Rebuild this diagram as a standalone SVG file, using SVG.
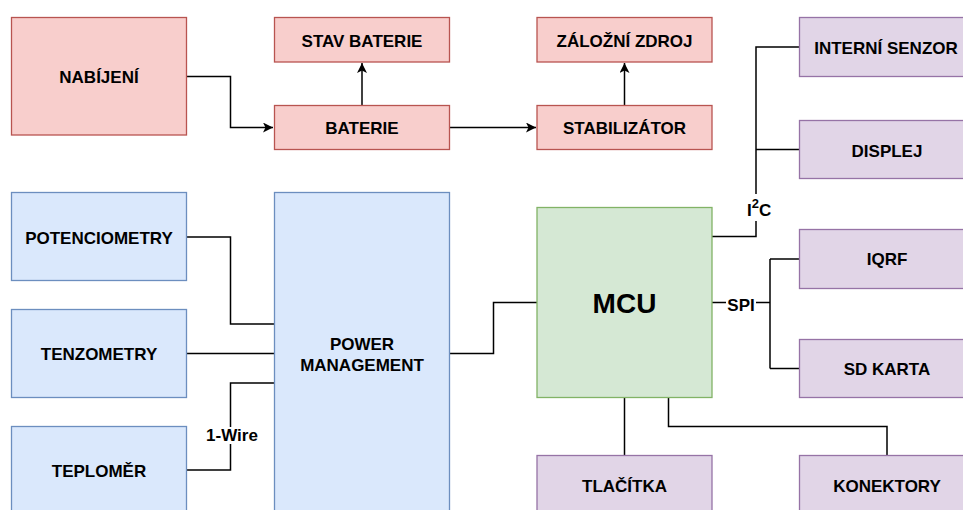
<svg xmlns="http://www.w3.org/2000/svg" width="963" height="510" viewBox="0 0 963 510">
<style>
.t{font-family:"Liberation Sans",Arial,sans-serif;font-weight:bold;font-size:17px;fill:#000;text-anchor:middle}
.red{fill:#f8cecc;stroke:#b85450;stroke-width:1.3}
.blue{fill:#dae8fc;stroke:#6c8ebf;stroke-width:1.3}
.green{fill:#d5e8d4;stroke:#82b366;stroke-width:1.3}
.purple{fill:#e1d5e7;stroke:#9673a6;stroke-width:1.3}
.c{fill:none;stroke:#000;stroke-width:1.5}
.bg{fill:#fff}
</style>
<defs>
<marker id="arr" viewBox="0 0 10 10" refX="10" refY="5" markerWidth="10" markerHeight="10" markerUnits="userSpaceOnUse" orient="auto">
<path d="M0,0 L10,5 L0,10 L2.5,5 Z" fill="#000"/>
</marker>
</defs>
<rect width="963" height="510" fill="#fff"/>
<g id="connectors">
<path class="c" d="M187,76.5 H230.5 V127.5 H273" marker-end="url(#arr)"/>
<path class="c" d="M362,105.5 V63" marker-end="url(#arr)"/>
<path class="c" d="M450,127.5 H536" marker-end="url(#arr)"/>
<path class="c" d="M624.5,105.5 V63" marker-end="url(#arr)"/>
<path class="c" d="M187,237 H230.5 V324 H274.5"/>
<path class="c" d="M187,353.5 H274.5"/>
<path class="c" d="M187,470 H230.5 V383 H274.5"/>
<path class="c" d="M450,353.5 H493.5 V302.5 H537"/>
<path class="c" d="M712,236.5 H756 V47 H799.5"/>
<path class="c" d="M756,149.5 H799.5"/>
<path class="c" d="M712,302.5 H770"/>
<path class="c" d="M770,259 V368.5"/>
<path class="c" d="M770,259 H799.5"/>
<path class="c" d="M770,368.5 H799.5"/>
<path class="c" d="M624.5,397.5 V455.5"/>
<path class="c" d="M668.5,397.5 V426.5 H887 V455.5"/>
<rect class="bg" x="742" y="194" width="32" height="27"/>
<text class="t" x="747" y="216" text-anchor="start" style="text-anchor:start">I<tspan dy="-8" font-size="13">2</tspan><tspan dy="8">C</tspan></text>
<rect class="bg" x="726" y="293" width="30" height="19"/>
<text class="t" x="741" y="310.5">SPI</text>
<rect class="bg" x="206" y="427" width="52" height="17"/>
<text class="t" x="232" y="441">1-Wire</text>
</g>
<g id="nabijeni"><rect class="red" x="11.5" y="17.5" width="175" height="117.5"/><text class="t" x="99" y="83">NABÍJENÍ</text></g>
<g id="stav-baterie"><rect class="red" x="274.5" y="17.5" width="175" height="44.5"/><text class="t" x="362" y="47">STAV BATERIE</text></g>
<g id="baterie"><rect class="red" x="274.5" y="105.5" width="175" height="44"/><text class="t" x="362" y="134">BATERIE</text></g>
<g id="zalozni-zdroj"><rect class="red" x="537" y="17.5" width="175" height="44.5"/><text class="t" x="624.5" y="47">ZÁLOŽNÍ ZDROJ</text></g>
<g id="stabilizator"><rect class="red" x="537" y="105.5" width="175" height="44"/><text class="t" x="624.5" y="134">STABILIZÁTOR</text></g>
<g id="interni-senzor"><rect class="purple" x="799.5" y="17.5" width="175" height="59"/><text class="t" x="886" y="54">INTERNÍ SENZOR</text></g>
<g id="displej"><rect class="purple" x="799.5" y="120.5" width="175" height="58"/><text class="t" x="887" y="156.5">DISPLEJ</text></g>
<g id="potenciometry"><rect class="blue" x="11.5" y="192.5" width="175" height="88"/><text class="t" x="99" y="244">POTENCIOMETRY</text></g>
<g id="tenzometry"><rect class="blue" x="11.5" y="309.5" width="175" height="88"/><text class="t" x="99" y="360">TENZOMETRY</text></g>
<g id="teplomer"><rect class="blue" x="11.5" y="426.5" width="175" height="88"/><text class="t" x="99" y="477">TEPLOMĚR</text></g>
<g id="power-management"><rect class="blue" x="274.5" y="192.5" width="175" height="322"/><text class="t" x="362" y="350">POWER</text><text class="t" x="362" y="371">MANAGEMENT</text></g>
<g id="mcu"><rect class="green" x="537" y="207.5" width="175" height="190"/><text class="t" x="624.5" y="312.5" style="font-size:28px">MCU</text></g>
<g id="iqrf"><rect class="purple" x="799.5" y="229.5" width="175" height="59"/><text class="t" x="887" y="265">IQRF</text></g>
<g id="sd-karta"><rect class="purple" x="799.5" y="339.5" width="175" height="58"/><text class="t" x="887" y="375">SD KARTA</text></g>
<g id="tlacitka"><rect class="purple" x="537" y="455.5" width="175" height="59"/><text class="t" x="624.5" y="491.5">TLAČÍTKA</text></g>
<g id="konektory"><rect class="purple" x="799.5" y="455.5" width="175" height="59"/><text class="t" x="887" y="491.5">KONEKTORY</text></g>
</svg>
